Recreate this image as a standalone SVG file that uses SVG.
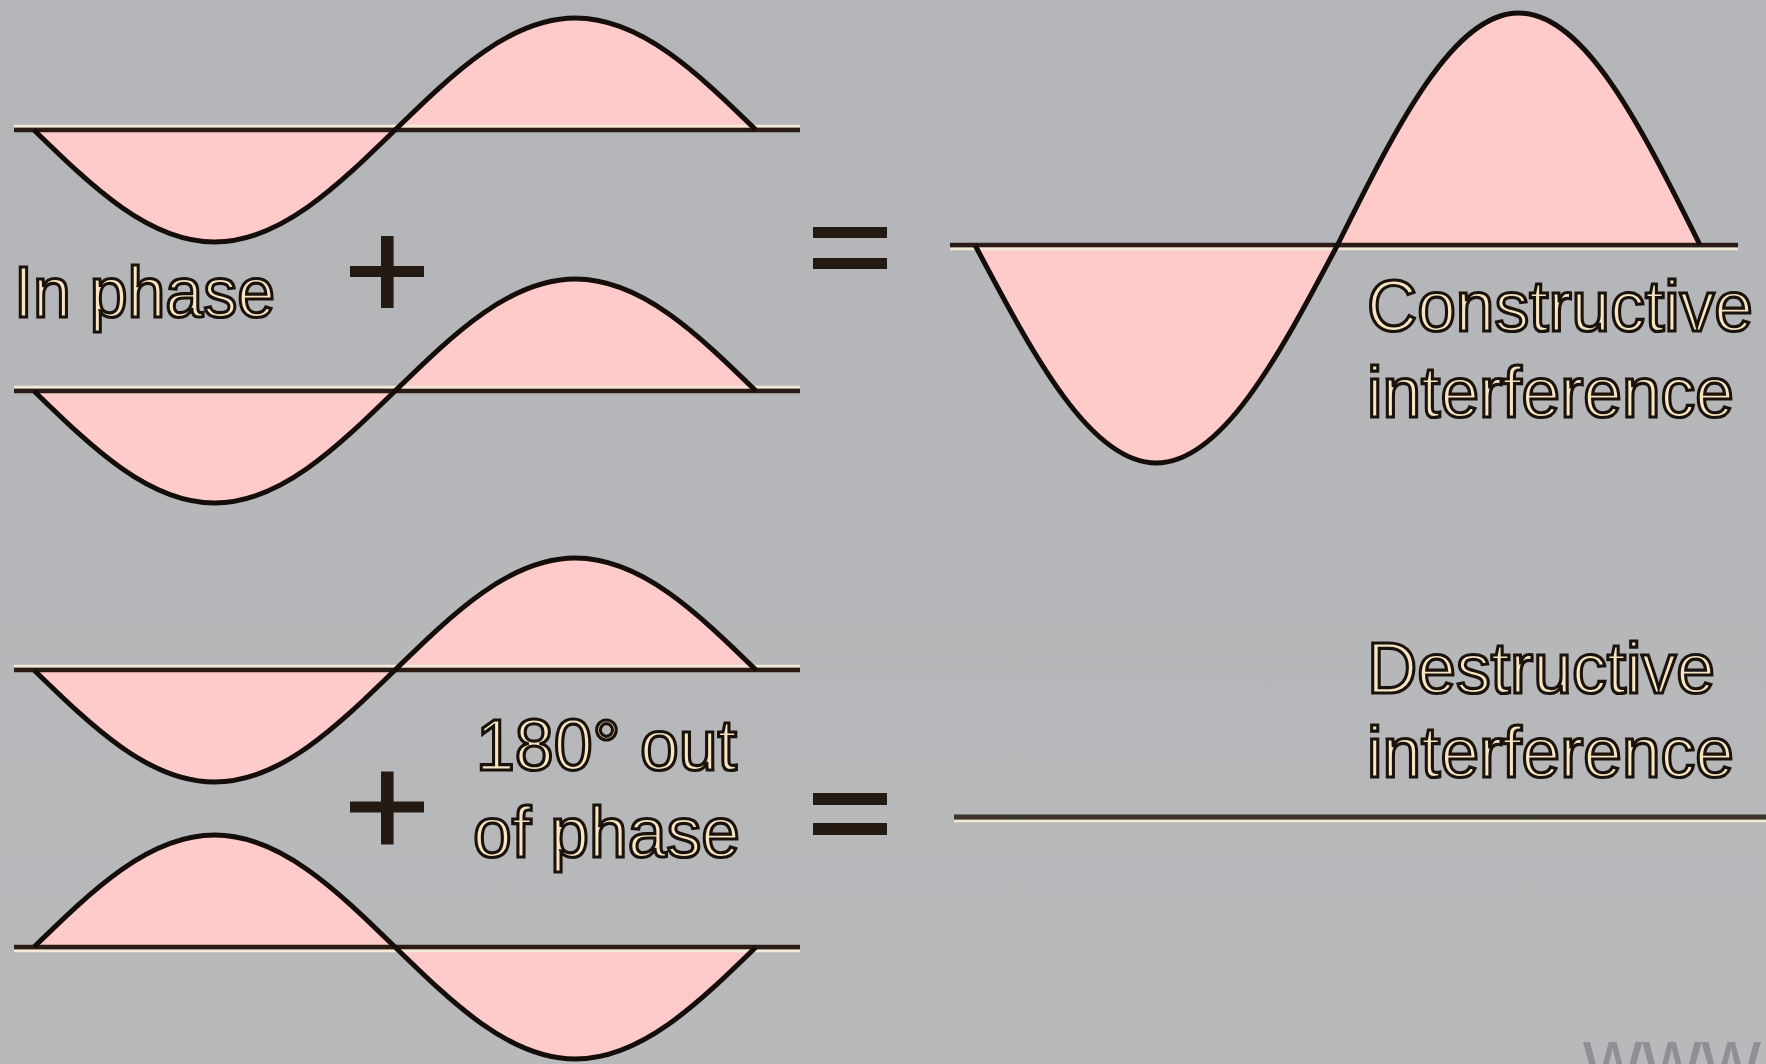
<svg xmlns="http://www.w3.org/2000/svg" xmlns:xlink="http://www.w3.org/1999/xlink" width="1766" height="1064" viewBox="0 0 1766 1064">
  <defs>
    <linearGradient id="bg" x1="0" y1="0" x2="0" y2="1">
      <stop offset="0" stop-color="#b3b5b8"/>
      <stop offset="1" stop-color="#b8b9bb"/>
    </linearGradient>
    <path id="wave" d="M0,0 C58.86,57.38 115.18,112 180.5,112 C245.82,112 302.14,57.38 361,0 C419.86,-57.38 476.18,-112 541.5,-112 C606.82,-112 663.14,-57.38 722,0 Z"/>
    <path id="waveBig" d="M0,0 C59.11,111.68 115.66,218 181.25,218 C246.84,218 303.39,111.68 362.5,0 C421.61,-118.85 478.16,-232 543.75,-232 C609.34,-232 665.89,-118.85 725,0 Z"/>
  </defs>
  <style>
    .fill { fill: #fecaca; stroke: none; }
    .curve { fill: none; stroke: #140d09; stroke-width: 5; stroke-linejoin: round; }
    .axis { stroke: #2a1c15; stroke-width: 4.5; }
    .halo { stroke: #f3ead6; stroke-width: 2.5; }
    .op { fill: #241a12; }
    .lbl { font-family: "Liberation Sans", Arial, sans-serif; font-size: 72px; fill: #f6e6c4; stroke: #1a120b; stroke-width: 3.2px; }
    .wm { font-family: "Liberation Sans", Arial, sans-serif; font-size: 82px; fill: #8e9095; }
  </style>
  <rect x="0" y="0" width="1766" height="1064" fill="url(#bg)"/>

  <g id="wave-inphase-1">
    <use xlink:href="#wave" href="#wave" class="fill" transform="translate(34,130)"/>
    <line class="halo" x1="14" y1="126" x2="800" y2="126"/>
    <line class="axis" x1="14" y1="130" x2="800" y2="130"/>
    <path d="M0,0 C58.86,57.38 115.18,112 180.5,112 C245.82,112 302.14,57.38 361,0 C419.86,-57.38 476.18,-112 541.5,-112 C606.82,-112 663.14,-57.38 722,0" class="curve" transform="translate(34,130)"/>
  </g>

  <g id="wave-inphase-2">
    <use xlink:href="#wave" href="#wave" class="fill" transform="translate(34,391)"/>
    <line class="halo" x1="14" y1="387" x2="800" y2="387"/>
    <line class="axis" x1="14" y1="391" x2="800" y2="391"/>
    <path d="M0,0 C58.86,57.38 115.18,112 180.5,112 C245.82,112 302.14,57.38 361,0 C419.86,-57.38 476.18,-112 541.5,-112 C606.82,-112 663.14,-57.38 722,0" class="curve" transform="translate(34,391)"/>
  </g>

  <g id="wave-out-1">
    <use xlink:href="#wave" href="#wave" class="fill" transform="translate(34,670)"/>
    <line class="halo" x1="14" y1="666" x2="800" y2="666"/>
    <line class="axis" x1="14" y1="670" x2="800" y2="670"/>
    <path d="M0,0 C58.86,57.38 115.18,112 180.5,112 C245.82,112 302.14,57.38 361,0 C419.86,-57.38 476.18,-112 541.5,-112 C606.82,-112 663.14,-57.38 722,0" class="curve" transform="translate(34,670)"/>
  </g>

  <g id="wave-out-2">
    <use xlink:href="#wave" href="#wave" class="fill" transform="translate(34,947) scale(1,-1)"/>
    <line class="halo" x1="14" y1="951" x2="800" y2="951"/>
    <line class="axis" x1="14" y1="947" x2="800" y2="947"/>
    <path d="M0,0 C58.86,57.38 115.18,112 180.5,112 C245.82,112 302.14,57.38 361,0 C419.86,-57.38 476.18,-112 541.5,-112 C606.82,-112 663.14,-57.38 722,0" class="curve" transform="translate(34,947) scale(1,-1)"/>
  </g>

  <g id="wave-constructive">
    <use xlink:href="#waveBig" href="#waveBig" class="fill" transform="translate(975,245)"/>
    <line class="halo" x1="950" y1="249" x2="1738" y2="249"/>
    <line class="axis" x1="950" y1="245" x2="1738" y2="245"/>
    <path d="M0,0 C59.11,111.68 115.66,218 181.25,218 C246.84,218 303.39,111.68 362.5,0 C421.61,-118.85 478.16,-232 543.75,-232 C609.34,-232 665.89,-118.85 725,0" class="curve" transform="translate(975,245)"/>
  </g>

  <g id="wave-destructive">
    <line class="halo" x1="954" y1="821" x2="1766" y2="821"/>
    <line stroke="#3b3328" stroke-width="5" x1="954" y1="817" x2="1766" y2="817"/>
  </g>

  <g id="operators">
    <rect class="op" x="350" y="266" width="74" height="11"/>
    <rect class="op" x="381" y="236" width="12.6" height="72"/>
    <rect class="op" x="350" y="801.5" width="74" height="11"/>
    <rect class="op" x="381" y="771.5" width="12.6" height="73"/>
    <rect class="op" x="813" y="227" width="74" height="11"/>
    <rect class="op" x="813" y="258" width="74" height="11"/>
    <rect class="op" x="813" y="793" width="74" height="12"/>
    <rect class="op" x="813" y="823" width="74" height="12"/>
  </g>

  <g id="labels">
    <text class="lbl" x="14" y="317" textLength="261" lengthAdjust="spacingAndGlyphs">In phase</text>
    <text class="lbl" x="476" y="770" textLength="261" lengthAdjust="spacingAndGlyphs">180° out</text>
    <text class="lbl" x="473" y="857" textLength="267" lengthAdjust="spacingAndGlyphs">of phase</text>
    <text class="lbl" x="1367" y="331" textLength="386" lengthAdjust="spacingAndGlyphs">Constructive</text>
    <text class="lbl" x="1367" y="417" textLength="367" lengthAdjust="spacingAndGlyphs">interference</text>
    <text class="lbl" x="1367" y="693" textLength="348" lengthAdjust="spacingAndGlyphs">Destructive</text>
    <text class="lbl" x="1367" y="777" textLength="367" lengthAdjust="spacingAndGlyphs">interference</text>
  </g>

  <text class="wm" x="1583" y="1085">www</text>
</svg>
